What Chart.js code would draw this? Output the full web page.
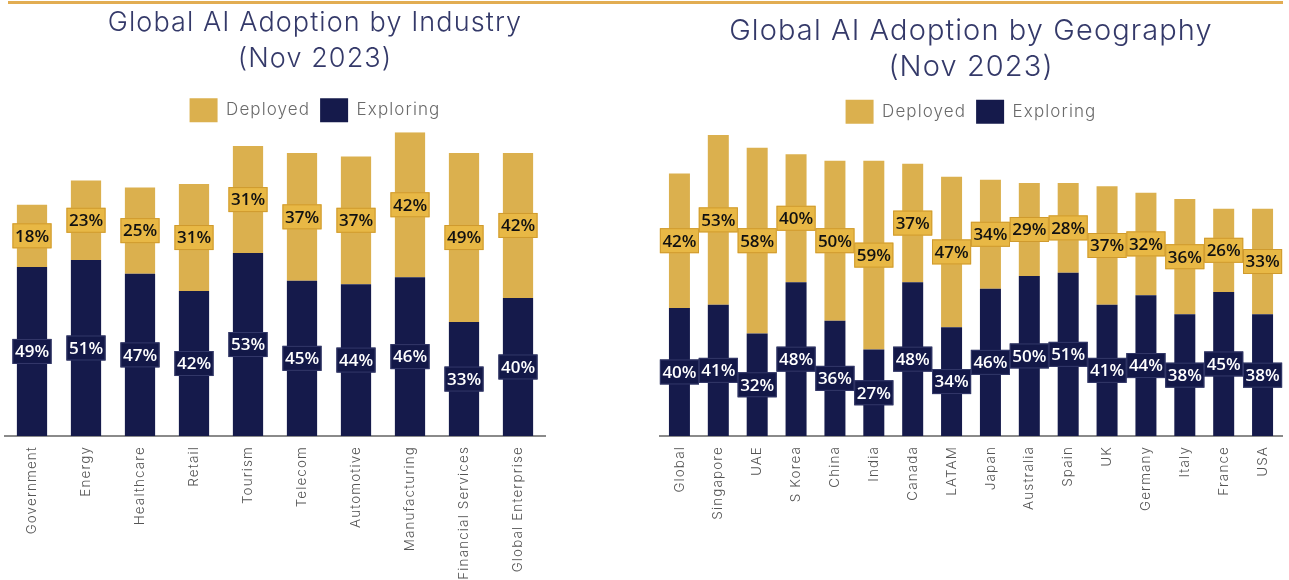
<!DOCTYPE html>
<html><head><meta charset="utf-8">
<script src="https://cdn.jsdelivr.net/npm/chart.js@4.4.0/dist/chart.umd.min.js"></script>
<style>
html,body{margin:0;padding:0;background:#fff;width:1289px;height:580px;overflow:hidden}
#topline{position:absolute;left:8px;top:1px;width:1275px;height:3px;background:#e2ad52}
#w1{position:absolute;left:0;top:0;width:640px;height:580px}
#w2{position:absolute;left:640px;top:0;width:649px;height:580px}
</style></head><body>
<div id="topline"></div>
<div id="w1"><canvas id="c1"></canvas></div>
<div id="w2"><canvas id="c2"></canvas></div>
<script>
const seriesNames = ['Deployed', 'Exploring'];
const industryCategories = ['Government','Energy','Healthcare','Retail','Tourism','Telecom','Automotive','Manufacturing','Financial Services','Global Enterprise'];
const industryDeployed  = [18,23,25,31,31,37,37,42,49,42];
const industryExploring = [49,51,47,42,53,45,44,46,33,40];
const geoCategories = ['Global','Singapore','UAE','S Korea','China','India','Canada','LATAM','Japan','Australia','Spain','UK','Germany','Italy','France','USA'];
const geoDeployed  = [42,53,58,40,50,59,37,47,34,29,28,37,32,36,26,33];
const geoExploring = [40,41,32,48,36,27,48,34,46,50,51,41,44,38,45,38];

const GOLD = '#dbb04e', NAVY = '#151a4b';

const spacingPlugin = {
  id: 'spacing',
  beforeUpdate(chart){ chart.ctx.letterSpacing = '1.1px'; },
  beforeDraw(chart){ chart.ctx.letterSpacing = '1.1px'; },
  afterDraw(chart){ chart.ctx.letterSpacing = '0px'; }
};

const labelPlugin = {
  id: 'boxLabels',
  afterDatasetsDraw(chart){
    const ctx = chart.ctx;
    ctx.save();
    ctx.letterSpacing = '0px';
    ctx.font = '600 17px "Open Sans"';
    ctx.textAlign = 'center';
    ctx.textBaseline = 'middle';
    chart.data.datasets.forEach((ds, di) => {
      const meta = chart.getDatasetMeta(di);
      meta.data.forEach((bar, i) => {
        const txt = ds.data[i] + '%';
        const cy = (bar.y + bar.base) / 2;
        const w = ctx.measureText(txt).width + 5, h = 25;
        ctx.fillStyle = ds.labelBg;
        ctx.fillRect(bar.x - w/2, cy - h/2, w, h);
        ctx.strokeStyle = ds.labelBorder;
        ctx.lineWidth = 1;
        ctx.strokeRect(bar.x - w/2 + 0.5, cy - h/2 + 0.5, w - 1, h - 1);
        ctx.fillStyle = ds.labelColor;
        ctx.fillText(txt, bar.x, cy + 1);
      });
    });
    ctx.restore();
  }
};

function makeChart(id, cats, dep, exp, cfg){
  return new Chart(document.getElementById(id), {
    type: 'bar',
    data: {
      labels: cats,
      datasets: [
        { label: seriesNames[1], data: exp, backgroundColor: NAVY, borderWidth: 0,
          barPercentage: cfg.barPct, categoryPercentage: 1,
          labelBg: '#131848', labelBorder: '#34396a', labelColor: '#ffffff' },
        { label: seriesNames[0], data: dep, backgroundColor: GOLD, borderWidth: 0,
          barPercentage: cfg.barPct, categoryPercentage: 1,
          labelBg: '#e8b845', labelBorder: '#cf9a2e', labelColor: '#111111' }
      ]
    },
    options: {
      responsive: true, maintainAspectRatio: false, animation: false,
      layout: { padding: cfg.padding },
      plugins: {
        title: { display: true, text: cfg.title, color: '#343969',
          font: { family: 'Inter', size: cfg.titleSize, weight: '300', lineHeight: cfg.titleLH },
          padding: cfg.titlePad },
        legend: { display: true, reverse: true,
          labels: { boxWidth: 28, boxHeight: 24, color: '#6a6a6a', padding: 10,
            font: { family: 'Inter', size: 17, weight: '300' } } },
        tooltip: { enabled: false }
      },
      scales: {
        x: { stacked: true, grid: { display: false },
          border: { display: true, color: '#8a8a8a', width: 2 },
          ticks: { color: '#555', font: { family: 'Inter', size: 13.5, weight: '300' },
            maxRotation: 90, minRotation: 90, autoSkip: false, padding: 2 },
          afterFit(s){ s.height = 144; } },
        y: { stacked: true, position: 'right', min: 0, max: cfg.ymax, display: cfg.yDisplay,
          grid: { display: false }, border: { display: false }, ticks: { display: false },
          afterFit(s){ s.width = cfg.yWidth; } }
      }
    },
    plugins: [spacingPlugin, labelPlugin]
  });
}

makeChart('c1', industryCategories, industryDeployed, industryExploring, {
  title: ['Global AI Adoption by Industry', '(Nov 2023)'], titleSize: 27, titleLH: 1.32,
  titlePad: { top: 5, bottom: 12 }, padding: { left: 5, right: 15, top: 0, bottom: 0 },
  ymax: 88, yDisplay: true, yWidth: 80, barPct: 0.56
});
makeChart('c2', geoCategories, geoDeployed, geoExploring, {
  title: ['Global AI Adoption by Geography', '(Nov 2023)'], titleSize: 29, titleLH: 1.22,
  titlePad: { top: 14, bottom: 5 }, padding: { left: 20, right: 7, top: 0, bottom: 0 },
  ymax: 94.4, yDisplay: false, yWidth: 0, barPct: 0.54
});
</script>
</body></html>
